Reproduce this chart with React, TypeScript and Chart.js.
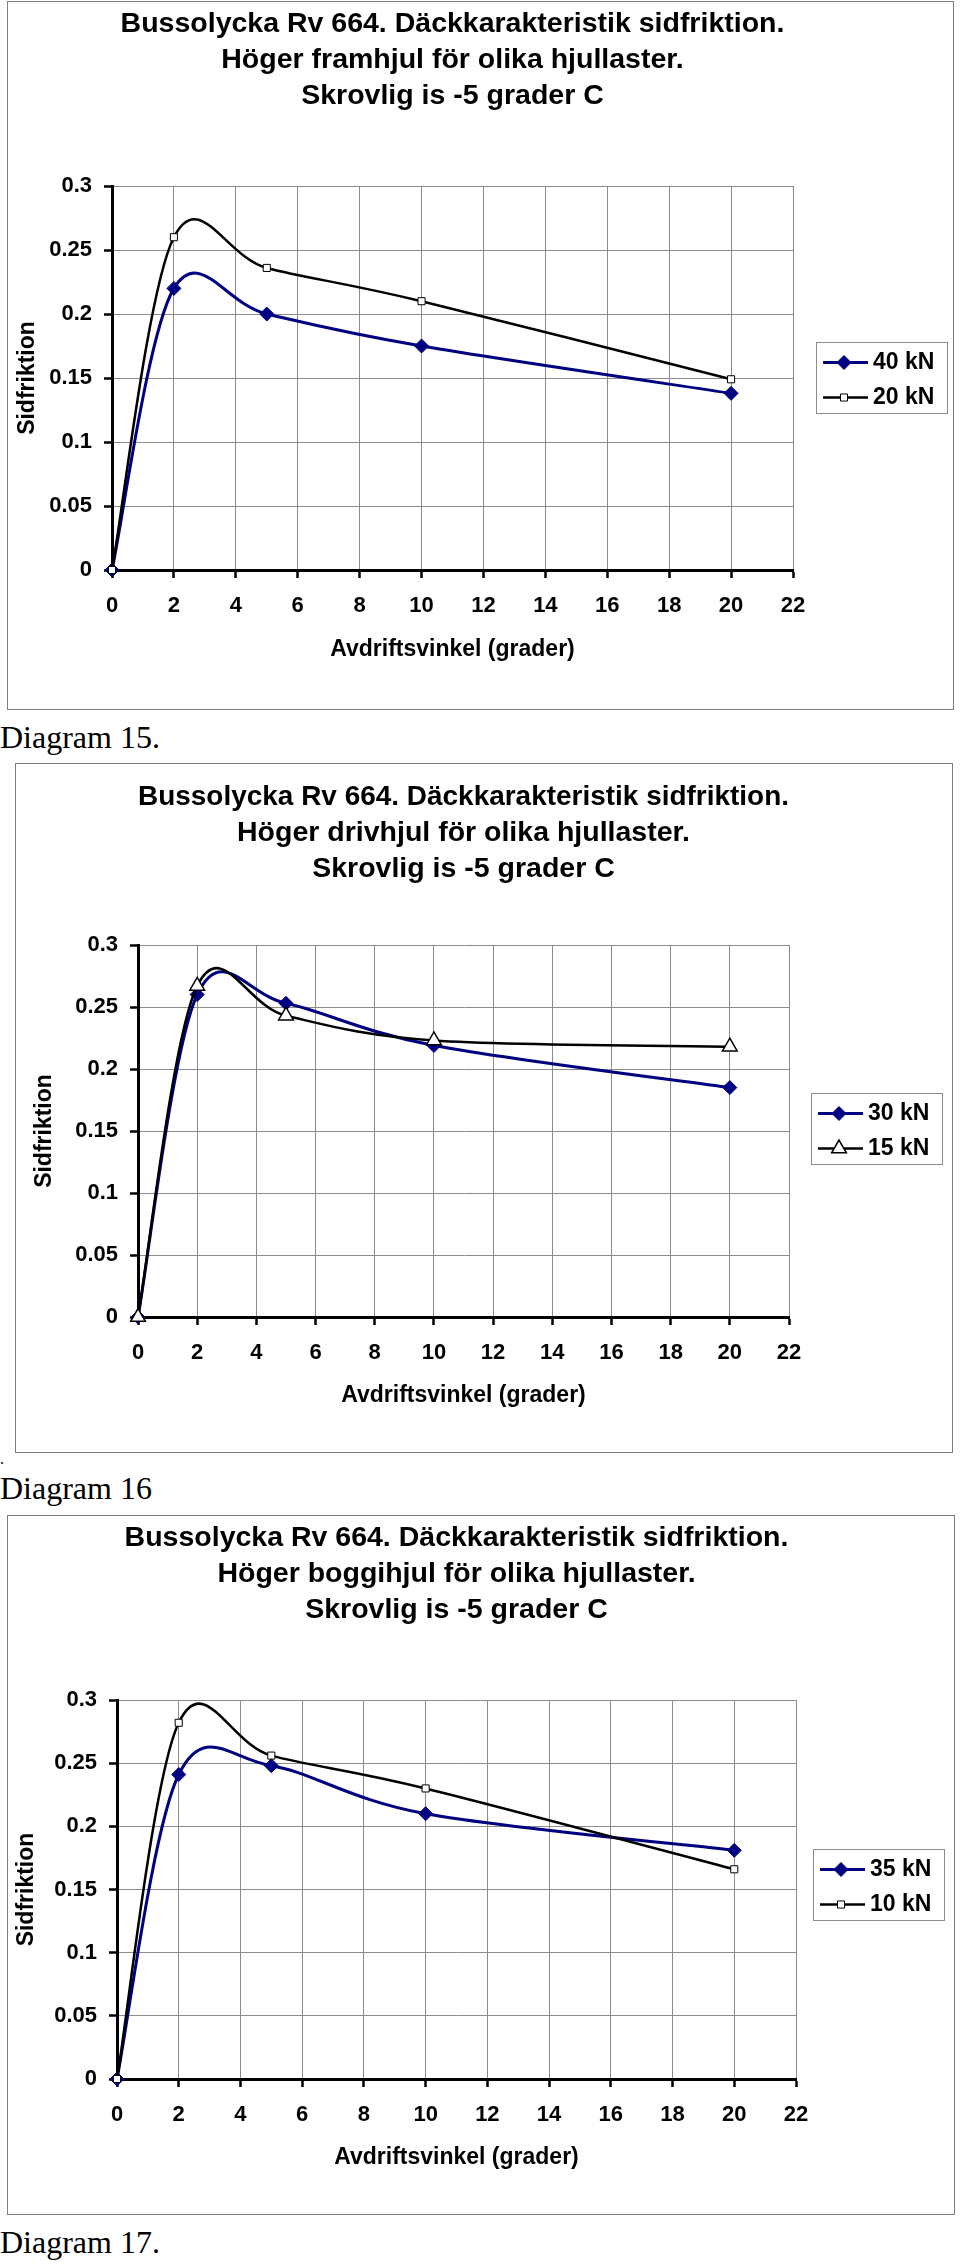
import React, { useEffect, useRef } from 'react';
import { Chart, registerables } from 'chart.js';

Chart.register(...registerables);

const SANS = "'Liberation Sans', Arial, Helvetica, sans-serif";
const SERIF = "'Liberation Serif', 'Times New Roman', Times, serif";
const NAVY = '#000080';
const GRID = '#8c8c8c';

// ---------- data ----------
const X_DEG = [0, 2, 5, 10, 20];
const X_TICK_LABELS = ['0', '2', '4', '6', '8', '10', '12', '14', '16', '18', '20', '22'];
const Y_TICK_LABELS = ['0', '0.05', '0.1', '0.15', '0.2', '0.25', '0.3'];

const TITLE_LINE_1 = 'Bussolycka Rv 664. Däckkarakteristik sidfriktion.';
const TITLE_LINE_3 = 'Skrovlig is -5 grader C';
const X_TITLE = 'Avdriftsvinkel (grader)';
const Y_TITLE = 'Sidfriktion';

// Diagram 15 – framhjul
const FRAM_LABELS = ['40 kN', '20 kN'];
const FRAM_40KN = [0, 0.22, 0.2, 0.175, 0.138];
const FRAM_20KN = [0, 0.26, 0.236, 0.21, 0.149];

// Diagram 16 – drivhjul
const DRIV_LABELS = ['30 kN', '15 kN'];
const DRIV_30KN = [0, 0.26, 0.253, 0.219, 0.185];
const DRIV_15KN = [0, 0.267, 0.243, 0.223, 0.218];

// Diagram 17 – boggihjul
const BOGGI_LABELS = ['35 kN', '10 kN'];
const BOGGI_35KN = [0, 0.241, 0.248, 0.21, 0.181];
const BOGGI_10KN = [0, 0.282, 0.256, 0.23, 0.166];

// ---------- layout (page pixels) ----------
type Layout = {
  boxLeft: number; boxTop: number; boxRight: number; boxBottom: number;
  plotLeft: number; plotTop: number; plotRight: number; plotBottom: number;
  titlePadTop: number; yTitleX: number; xTitleY: number;
  legendGap: number; legendDy: number;
};

type Spec = {
  subtitle: string;
  labels: string[];
  primary: number[];
  secondary: number[];
  secondaryStyle: string;
  layout: Layout;
};

const SPECS: Spec[] = [
  {
    subtitle: 'Höger framhjul för olika hjullaster.',
    labels: FRAM_LABELS, primary: FRAM_40KN, secondary: FRAM_20KN, secondaryStyle: 'rect',
    layout: { boxLeft: 7, boxTop: 1, boxRight: 954, boxBottom: 710, plotLeft: 112, plotTop: 186, plotRight: 793, plotBottom: 570, titlePadTop: 4, yTitleX: 28, xTitleY: 650, legendGap: 23, legendDy: -1 },
  },
  {
    subtitle: 'Höger drivhjul för olika hjullaster.',
    labels: DRIV_LABELS, primary: DRIV_30KN, secondary: DRIV_15KN, secondaryStyle: 'triangle',
    layout: { boxLeft: 15, boxTop: 763, boxRight: 953, boxBottom: 1453, plotLeft: 138, plotTop: 945, plotRight: 789, plotBottom: 1317, titlePadTop: 15, yTitleX: 45, xTitleY: 1396, legendGap: 22, legendDy: -2.5 },
  },
  {
    subtitle: 'Höger boggihjul för olika hjullaster.',
    labels: BOGGI_LABELS, primary: BOGGI_35KN, secondary: BOGGI_10KN, secondaryStyle: 'rect',
    layout: { boxLeft: 7, boxTop: 1515, boxRight: 955, boxBottom: 2215, plotLeft: 117, plotTop: 1700, plotRight: 796, plotBottom: 2079, titlePadTop: 4, yTitleX: 27, xTitleY: 2158, legendGap: 17, legendDy: -5 },
  },
];

function drawMarker(ctx: CanvasRenderingContext2D, style: string, x: number, y: number, r: number, fill: string, stroke: string, bw: number) {
  ctx.save();
  ctx.beginPath();
  if (style === 'rectRot') {
    ctx.moveTo(x - r, y); ctx.lineTo(x, y - r); ctx.lineTo(x + r, y); ctx.lineTo(x, y + r); ctx.closePath();
  } else if (style === 'rect') {
    const s = Math.SQRT1_2 * r;
    ctx.rect(x - s, y - s, 2 * s, 2 * s);
  } else if (style === 'triangle') {
    for (let k = 0; k < 3; k++) {
      const a = (k * 2 * Math.PI) / 3;
      const px = x + Math.sin(a) * r, py = y - Math.cos(a) * r;
      if (k === 0) ctx.moveTo(px, py); else ctx.lineTo(px, py);
    }
    ctx.closePath();
  }
  ctx.fillStyle = fill; ctx.fill();
  ctx.lineWidth = bw; ctx.strokeStyle = stroke; ctx.stroke();
  ctx.restore();
}

// Excel-like smoothing: uniform Catmull-Rom control points on the library's own pixel positions
const excelSmooth = {
  id: 'excelSmooth',
  beforeDatasetsDraw(chart: any) {
    chart.data.datasets.forEach((_ds: any, di: number) => {
      const meta = chart.getDatasetMeta(di);
      const line = meta.dataset;
      const pts = meta.data;
      if (!line || !pts || pts.length < 2) return;
      line.updateControlPoints(chart.chartArea, 'x');
      const n = pts.length;
      for (let i = 0; i < n; i++) {
        const prev = pts[Math.max(0, i - 1)];
        const next = pts[Math.min(n - 1, i + 1)];
        const dx = (next.x - prev.x) / 6;
        const dy = (next.y - prev.y) / 6;
        pts[i].cp1x = pts[i].x - dx; pts[i].cp1y = pts[i].y - dy;
        pts[i].cp2x = pts[i].x + dx; pts[i].cp2y = pts[i].y + dy;
      }
    });
  },
};

const boxLegend = {
  id: 'boxLegend',
  afterDraw(chart: any, _args: any, opts: any) {
    const { ctx, chartArea } = chart;
    const left = Math.round(chartArea.right + opts.gap);
    const top = Math.round((chartArea.top + chartArea.bottom) / 2 + opts.dy - opts.height / 2);
    ctx.save();
    ctx.fillStyle = '#fff';
    ctx.fillRect(left, top, opts.width, opts.height);
    ctx.strokeStyle = '#8c8c8c'; ctx.lineWidth = 1;
    ctx.strokeRect(left + 0.5, top + 0.5, opts.width, opts.height);
    chart.data.datasets.forEach((ds: any, i: number) => {
      const cy = top + opts.firstRow + i * opts.rowGap;
      ctx.strokeStyle = ds.borderColor; ctx.lineWidth = ds.borderWidth;
      ctx.beginPath(); ctx.moveTo(left + 7, cy); ctx.lineTo(left + 52, cy); ctx.stroke();
      drawMarker(ctx, ds.pointStyle, left + 28, cy, ds.pointRadius, ds.pointBackgroundColor, ds.pointBorderColor, ds.pointBorderWidth);
      ctx.fillStyle = '#000';
      ctx.font = `bold 23px ${SANS}`;
      ctx.textBaseline = 'middle'; ctx.textAlign = 'left';
      ctx.fillText(ds.label, left + 57, cy);
    });
    ctx.restore();
  },
};

function TireChart({ spec }: { spec: Spec }) {
  const ref = useRef<HTMLCanvasElement>(null);
  const L = spec.layout;
  const ox = L.boxLeft + 1, oy = L.boxTop + 1;
  const cw = L.boxRight - L.boxLeft - 2, ch = L.boxBottom - L.boxTop - 2;

  useEffect(() => {
    const canvas = ref.current;
    if (!canvas) return;
    const TITLE_SIZE = 28.5, TITLE_LH = 36;
    const AXIS_SIZE = 23, AXIS_LH = AXIS_SIZE * 1.2;
    const titlePadBottom = (L.plotTop - oy) - L.titlePadTop - 3 * TITLE_LH;
    const yWidth = L.plotLeft - ox;
    const xHeight = ch - (L.plotBottom - oy);
    const padRight = cw - (L.plotRight - ox);
    const yTitlePad = (L.yTitleX - ox) - AXIS_LH / 2;
    const xTitlePad = (ch - (L.xTitleY - oy)) - AXIS_LH / 2;
    const tickFont = { family: SANS, size: 22, weight: 'bold' as const };
    const axisFont = { family: SANS, size: AXIS_SIZE, weight: 'bold' as const, lineHeight: 1.2 };

    const chart = new Chart(canvas, {
      type: 'line',
      data: {
        datasets: [
          {
            label: spec.labels[0],
            data: X_DEG.map((x, i) => ({ x, y: spec.primary[i] })),
            borderColor: NAVY, backgroundColor: NAVY, borderWidth: 3,
            pointStyle: 'rectRot', pointRadius: 7, pointBackgroundColor: NAVY, pointBorderColor: NAVY, pointBorderWidth: 1,
            tension: 0.4, fill: false, clip: false as any, order: 2,
          },
          {
            label: spec.labels[1],
            data: X_DEG.map((x, i) => ({ x, y: spec.secondary[i] })),
            borderColor: '#000', backgroundColor: '#fff', borderWidth: 2.5,
            pointStyle: spec.secondaryStyle as any,
            pointRadius: spec.secondaryStyle === 'triangle' ? 8.5 : 5,
            pointBackgroundColor: '#fff', pointBorderColor: '#000',
            pointBorderWidth: spec.secondaryStyle === 'triangle' ? 1.5 : 1,
            tension: 0.4, fill: false, clip: false as any, order: 1,
          },
        ] as any,
      },
      options: {
        animation: false,
        responsive: false,
        maintainAspectRatio: false,
        devicePixelRatio: 1,
        events: [],
        layout: { padding: { left: 0, top: 0, bottom: 0, right: padRight } },
        plugins: {
          legend: { display: false },
          tooltip: { enabled: false },
          title: {
            display: true,
            fullSize: false,
            position: 'top',
            text: [TITLE_LINE_1, spec.subtitle, TITLE_LINE_3],
            color: '#000',
            font: { family: SANS, size: TITLE_SIZE, weight: 'bold', lineHeight: TITLE_LH / TITLE_SIZE },
            padding: { top: L.titlePadTop, bottom: titlePadBottom },
          },
          boxLegend: { gap: L.legendGap, dy: L.legendDy, width: 131, height: 71, firstRow: 20.5, rowGap: 35 },
        } as any,
        scales: {
          x: {
            type: 'linear', min: 0, max: 22,
            afterFit: (s: any) => { s.height = xHeight; },
            ticks: {
              stepSize: 2, autoSkip: false, maxRotation: 0, padding: 15, color: '#000', font: tickFont,
              callback: (_v: any, i: number) => X_TICK_LABELS[i],
            },
            grid: { color: GRID, lineWidth: 1, drawTicks: true, tickLength: 8, tickColor: '#000', tickWidth: 2.5 },
            border: { color: '#000', width: 3 },
            title: { display: true, text: X_TITLE, color: '#000', font: axisFont, padding: { top: 0, bottom: xTitlePad } },
          },
          y: {
            type: 'linear', min: 0, max: 0.3,
            afterFit: (s: any) => { s.width = yWidth; },
            ticks: {
              stepSize: 0.05, autoSkip: false, padding: 12, color: '#000', font: tickFont,
              callback: (_v: any, i: number) => Y_TICK_LABELS[i],
            },
            grid: { color: GRID, lineWidth: 1, drawTicks: true, tickLength: 8, tickColor: '#000', tickWidth: 2.5 },
            border: { color: '#000', width: 3 },
            title: { display: true, text: Y_TITLE, color: '#000', font: axisFont, padding: { top: yTitlePad, bottom: 0 } },
          },
        } as any,
      },
      plugins: [excelSmooth as any, boxLegend as any],
    });
    return () => chart.destroy();
  }, []);

  return (
    <div
      style={{
        position: 'absolute', left: L.boxLeft, top: L.boxTop,
        width: L.boxRight - L.boxLeft, height: L.boxBottom - L.boxTop,
        border: '1px solid #808080', boxSizing: 'border-box', background: '#fff',
      }}
    >
      <canvas ref={ref} width={cw} height={ch} style={{ display: 'block', width: cw, height: ch }} />
    </div>
  );
}

const captionStyle: React.CSSProperties = {
  position: 'absolute', left: 0, fontFamily: SERIF, fontSize: 32, lineHeight: '32px',
  color: '#000', whiteSpace: 'nowrap', margin: 0,
};

export default function App() {
  return (
    <div style={{ position: 'absolute', left: 0, top: 0, width: 960, height: 2265, background: '#fff', overflow: 'hidden' }}>
      <TireChart spec={SPECS[0]} />
      <div style={{ ...captionStyle, top: 721 }}>Diagram 15.</div>
      <TireChart spec={SPECS[1]} />
      <div style={{ ...captionStyle, top: 1451, fontSize: 16, lineHeight: '16px' }}>.</div>
      <div style={{ ...captionStyle, top: 1472 }}>Diagram 16</div>
      <TireChart spec={SPECS[2]} />
      <div style={{ ...captionStyle, top: 2226 }}>Diagram 17.</div>
    </div>
  );
}
